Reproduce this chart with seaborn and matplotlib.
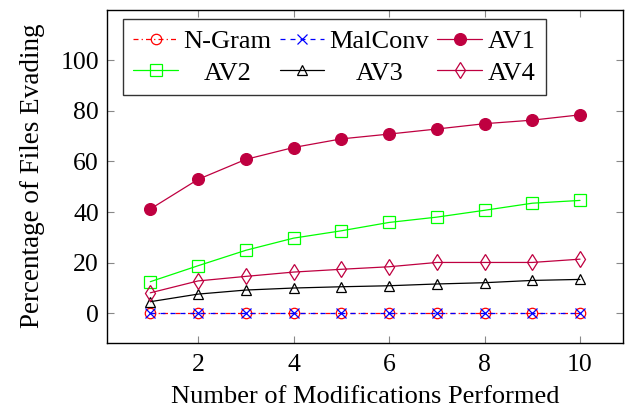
import matplotlib
matplotlib.use("Agg")
import matplotlib.pyplot as plt
import seaborn as sns
import numpy as np

sns.set_theme(style="white")
plt.rcParams['font.family'] = ['Liberation Serif', 'DejaVu Serif']
plt.rcParams['text.color'] = 'black'
plt.rcParams['axes.labelcolor'] = 'black'
plt.rcParams['xtick.color'] = 'black'
plt.rcParams['ytick.color'] = 'black'

mods = [1, 2, 3, 4, 5, 6, 7, 8, 9, 10]
ngram = [0, 0, 0, 0, 0, 0, 0, 0, 0, 0]
malconv = [0, 0, 0, 0, 0, 0, 0, 0, 0, 0]
av1 = [41.2, 52.9, 60.8, 65.5, 68.9, 70.8, 72.8, 74.9, 76.3, 78.4]
av2 = [12.5, 18.8, 24.9, 29.7, 32.6, 35.9, 38.0, 40.7, 43.5, 44.6]
av3 = [4.6, 7.6, 9.2, 10.0, 10.5, 10.9, 11.6, 12.1, 13.0, 13.4]
av4 = [8.1, 12.8, 14.6, 16.3, 17.4, 18.4, 20.1, 20.1, 20.1, 21.4]

xticks = [2, 4, 6, 8, 10]
yticks = [0, 20, 40, 60, 80, 100]

purple = '#BF0040'
fig = plt.figure(figsize=(6.25, 4.08), dpi=100)
ax = fig.add_axes([0.1717, 0.160, 0.8251, 0.8167])

lw = 0.9
common = dict(ax=ax, linewidth=lw, markeredgewidth=0.9)
sns.lineplot(x=mods, y=ngram, color='red', marker='o', markersize=7.5,
             markerfacecolor='none', markeredgecolor='red',
             linestyle=(0, (4, 2.5, 1, 2.5)), label='N-Gram', **common)
sns.lineplot(x=mods, y=malconv, color='blue', marker='x', markersize=6.5,
             markeredgecolor='blue', linestyle=(0, (4, 4)), label='MalConv', **common)
sns.lineplot(x=mods, y=av1, color=purple, marker='o', markersize=8.5,
             markerfacecolor=purple, markeredgecolor=purple, label='AV1', **common)
sns.lineplot(x=mods, y=av2, color='#00FF00', marker='s', markersize=8,
             markerfacecolor='none', markeredgecolor='#00FF00', label='AV2', **common)
sns.lineplot(x=mods, y=av3, color='black', marker='^', markersize=7.5,
             markerfacecolor='none', markeredgecolor='black', label='AV3', **common)
sns.lineplot(x=mods, y=av4, color=purple, marker='d', markersize=8,
             markerfacecolor='none', markeredgecolor=purple, label='AV4', **common)

ax.set_xlim(0.1, 10.9)
ax.set_ylim(-11.6, 120)
ax.set_xticks(xticks)
ax.set_yticks(yticks)
ax.tick_params(direction='in', length=5, width=0.8, color='#888888',
               labelcolor='black', top=True, right=True, bottom=True, left=True,
               labelsize=18.5)
ax.tick_params(axis='x', pad=8)
ax.tick_params(axis='y', pad=6)
for s in ax.spines.values():
    s.set_visible(True)
    s.set_color('black')
    s.set_linewidth(1.0)
ax.set_xlabel('Number of Modifications Performed', fontsize=19, labelpad=7)
ax.set_ylabel('Percentage of Files Evading', fontsize=19.5, labelpad=11)

handles, labels = ax.get_legend_handles_labels()
order = [0, 3, 1, 4, 2, 5]
leg = ax.legend([handles[i] for i in order], [labels[i] for i in order],
                ncol=3, loc='upper left', bbox_to_anchor=(0.030, 0.971),
                fontsize=19, frameon=True, fancybox=False, edgecolor='black',
                handlelength=1.7, handletextpad=0.2, columnspacing=0.3,
                labelspacing=0.3, borderpad=0.4, borderaxespad=0)
leg.get_frame().set_linewidth(1.0)

# center shorter legend labels within their column (as in the reference)
fig.canvas.draw()
r = fig.canvas.get_renderer()
texts = leg.get_texts()
for c in range(3):
    pair = texts[2 * c:2 * c + 2]
    widths = [t.get_window_extent(r).width for t in pair]
    wmax = max(widths)
    for t, w in zip(pair, widths):
        t.set_x((wmax - w) / 2)

fig.savefig('out.png', dpi=100)
